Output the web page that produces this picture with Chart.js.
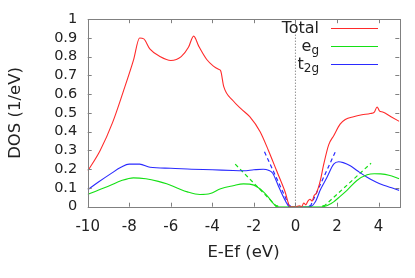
<!DOCTYPE html>
<html>
<head>
<meta charset="utf-8">
<script src="https://cdn.jsdelivr.net/npm/chart.js@4/dist/chart.umd.min.js"></script>
<style>
html,body{margin:0;padding:0;background:#fff;}
canvas{display:block;}
</style>
</head>
<body>
<canvas id="c" width="415" height="278"></canvas>
<script>
// ---- data ----
const totalE   = [-10, -9.4, -8.8, -8.3, -7.8, -7.5, -7.3, -7.0, -6.5, -6.0, -5.5, -5.15, -4.9, -4.65, -4.27, -3.95, -3.7, -3.6, -3.45, -3.0, -2.6, -2.2, -1.7, -1.3, -0.9, -0.5, -0.25, 0, 0.2, 0.3, 0.4, 0.5, 0.6, 0.7, 0.8, 0.9, 1.0, 1.1, 1.2, 1.35, 1.6, 1.85, 2.15, 2.4, 2.8, 3.2, 3.6, 3.8, 3.93, 4.05, 4.2, 4.6, 5.0];
const totalDOS = [0.19, 0.30, 0.45, 0.61, 0.78, 0.90, 0.895, 0.84, 0.80, 0.78, 0.80, 0.85, 0.91, 0.855, 0.785, 0.75, 0.733, 0.725, 0.64, 0.565, 0.52, 0.48, 0.40, 0.30, 0.19, 0.08, 0.0, 0.0, 0.005, 0.0, 0.02, 0.01, 0.03, 0.04, 0.03, 0.06, 0.07, 0.10, 0.14, 0.22, 0.33, 0.38, 0.44, 0.465, 0.48, 0.49, 0.497, 0.505, 0.532, 0.51, 0.505, 0.48, 0.455];

const t2gE   = [-10, -9.5, -8.9, -8.4, -8.0, -7.5, -7.0, -6.0, -5.0, -4.0, -3.0, -2.5, -2.0, -1.55, -1.3, -1.1, -0.8, -0.5, -0.28, 0, 0.4, 0.71, 0.96, 1.2, 1.52, 1.84, 2.08, 2.3, 2.64, 3.0, 3.45, 3.9, 4.25, 4.7, 5.0];
const t2gDOS = [0.09, 0.13, 0.175, 0.21, 0.227, 0.227, 0.21, 0.205, 0.2, 0.197, 0.193, 0.192, 0.197, 0.20, 0.195, 0.18, 0.105, 0.035, 0, 0, 0, 0, 0.026, 0.09, 0.157, 0.227, 0.24, 0.235, 0.218, 0.19, 0.157, 0.13, 0.114, 0.098, 0.087];

const egE   = [-10, -9.5, -8.9, -8.4, -7.8, -7.2, -6.6, -6.2, -5.7, -5.2, -4.6, -4.1, -3.6, -3.0, -2.5, -2.0, -1.54, -1.3, -1.13, -0.89, 0, 1.35, 1.6, 1.84, 2.15, 2.48, 2.96, 3.45, 3.8, 4.1, 4.5, 5.0];
const egDOS = [0.065, 0.088, 0.114, 0.138, 0.154, 0.149, 0.135, 0.122, 0.10, 0.079, 0.065, 0.07, 0.096, 0.112, 0.122, 0.115, 0.079, 0.05, 0.026, 0, 0, 0, 0.01, 0.026, 0.055, 0.087, 0.14, 0.17, 0.176, 0.175, 0.168, 0.149];

// linear band-edge fits (dashed)
const egFitLeftE   = [-2.9, -0.89];  const egFitLeftDOS   = [0.227, 0];
const egFitRightE  = [1.35, 3.64];   const egFitRightDOS  = [0, 0.232];
const t2gFitLeftE  = [-1.49, -0.28]; const t2gFitLeftDOS  = [0.293, 0];
const t2gFitRightE = [0.71, 1.95];   const t2gFitRightDOS = [0, 0.30];

// Fermi level marker
const fermiE = [0, 0];
const fermiDOS = [0, 1];

const xTickValues = [-10, -8, -6, -4, -2, 0, 2, 4];
const yTickValues = [0, 0.1, 0.2, 0.3, 0.4, 0.5, 0.6, 0.7, 0.8, 0.9, 1];
const xTitle = 'E-Ef (eV)';
const yTitle = 'DOS (1/eV)';
const legendMain = ['Total', 'e', 't'];
const legendSub  = ['', 'g', '2g'];

// ---- styling ----
const RED = '#ff2a2a', GREEN = '#14e014', BLUE = '#2a2aff';
const AXIS = '#808080';
const FONT = "'DejaVu Sans', sans-serif";

const pts = (xs, ys) => xs.map((x, i) => ({x, y: ys[i]}));
const edgeRadius = c => (c.raw && c.raw.y === 0 ? 1.6 : 0);

function curve(label, xs, ys, color) {
  return {label, data: pts(xs, ys), borderColor: color, backgroundColor: color,
    borderWidth: 1.1, pointRadius: 0, cubicInterpolationMode: 'monotone', fill: false};
}
function fit(xs, ys, color) {
  return {label: '', data: pts(xs, ys), borderColor: color, backgroundColor: color,
    borderWidth: 1.2, borderDash: [4, 3], pointRadius: edgeRadius, pointBorderWidth: 0, fill: false};
}

const datasets = [
  curve('Total', totalE, totalDOS, RED),
  curve('eg', egE, egDOS, GREEN),
  curve('t2g', t2gE, t2gDOS, BLUE),
  fit(egFitLeftE, egFitLeftDOS, GREEN),
  fit(egFitRightE, egFitRightDOS, GREEN),
  fit(t2gFitLeftE, t2gFitLeftDOS, BLUE),
  fit(t2gFitRightE, t2gFitRightDOS, BLUE),
  {label: '', data: pts(fermiE, fermiDOS), borderColor: '#606060', borderWidth: 1,
   borderDash: [1, 2], pointRadius: 0, fill: false}
];

const frame = {
  id: 'frame',
  afterDatasetsDraw(chart) {
    const {ctx, chartArea: a, scales: {x, y}} = chart;
    ctx.save();
    ctx.strokeStyle = AXIS;
    ctx.lineWidth = 1;
    ctx.strokeRect(Math.round(a.left) + 0.5, Math.round(a.top) + 0.5,
                   Math.round(a.right - a.left), Math.round(a.bottom - a.top));
    const L = 4;
    ctx.beginPath();
    x.ticks.forEach(t => {
      const px = Math.round(x.getPixelForValue(t.value)) + 0.5;
      ctx.moveTo(px, a.bottom); ctx.lineTo(px, a.bottom - L);
      ctx.moveTo(px, a.top); ctx.lineTo(px, a.top + L);
    });
    y.ticks.forEach(t => {
      const py = Math.round(y.getPixelForValue(t.value)) + 0.5;
      ctx.moveTo(a.left, py); ctx.lineTo(a.left + L, py);
      ctx.moveTo(a.right, py); ctx.lineTo(a.right - L, py);
    });
    ctx.stroke();

    // legend
    const rightX = 319, lineX0 = 331, lineX1 = 378;
    const rowY = [28, 46, 64];
    const colors = [datasets[0].borderColor, datasets[1].borderColor, datasets[2].borderColor];
    ctx.fillStyle = '#222';
    ctx.textBaseline = 'alphabetic';
    ctx.textAlign = 'left';
    legendMain.forEach((m, i) => {
      const yy = rowY[i];
      ctx.font = '12px ' + FONT;
      const sw = legendSub[i] ? ctx.measureText(legendSub[i]).width : 0;
      ctx.font = '16px ' + FONT;
      const mw = ctx.measureText(m).width;
      const x0 = rightX - sw - mw;
      ctx.fillText(m, x0, yy + 5);
      if (legendSub[i]) {
        ctx.font = '12px ' + FONT;
        ctx.fillText(legendSub[i], x0 + mw, yy + 8);
      }
      ctx.strokeStyle = colors[i];
      ctx.lineWidth = 1.1;
      ctx.beginPath();
      ctx.moveTo(lineX0, yy + 0.5); ctx.lineTo(lineX1, yy + 0.5);
      ctx.stroke();
    });
    ctx.restore();
  }
};

new Chart(document.getElementById('c'), {
  type: 'line',
  data: {datasets},
  options: {
    responsive: false,
    animation: false,
    layout: {padding: {left: 0, right: 15.7, top: 15.7, bottom: 0}},
    plugins: {legend: {display: false}, tooltip: {enabled: false}},
    elements: {line: {tension: 0}},
    scales: {
      x: {
        type: 'linear', min: -10, max: 5,
        afterBuildTicks: s => { s.ticks = xTickValues.map(v => ({value: v})); },
        afterFit: s => { s.height = 278 - 206.7; },
        grid: {drawOnChartArea: false, drawTicks: false},
        border: {display: false},
        ticks: {color: '#222', font: {family: FONT, size: 15}, padding: 11, maxRotation: 0,
                autoSkip: false, callback: v => String(v)},
        title: {display: true, text: xTitle, color: '#222',
                font: {family: FONT, size: 16.5}, padding: {top: 0, bottom: 15.5}}
      },
      y: {
        type: 'linear', min: 0, max: 1,
        afterBuildTicks: s => { s.ticks = yTickValues.map(v => ({value: v})); },
        afterFit: s => { s.width = 87.7; },
        grid: {drawOnChartArea: false, drawTicks: false},
        border: {display: false},
        ticks: {color: '#222', font: {family: FONT, size: 14.5}, padding: 10.5,
                autoSkip: false, callback: v => String(+v.toFixed(1))},
        title: {display: true, text: yTitle, color: '#222',
                font: {family: FONT, size: 16.5}, padding: {top: 6, bottom: 0}}
      }
    }
  },
  plugins: [frame]
});
</script>
</body>
</html>
